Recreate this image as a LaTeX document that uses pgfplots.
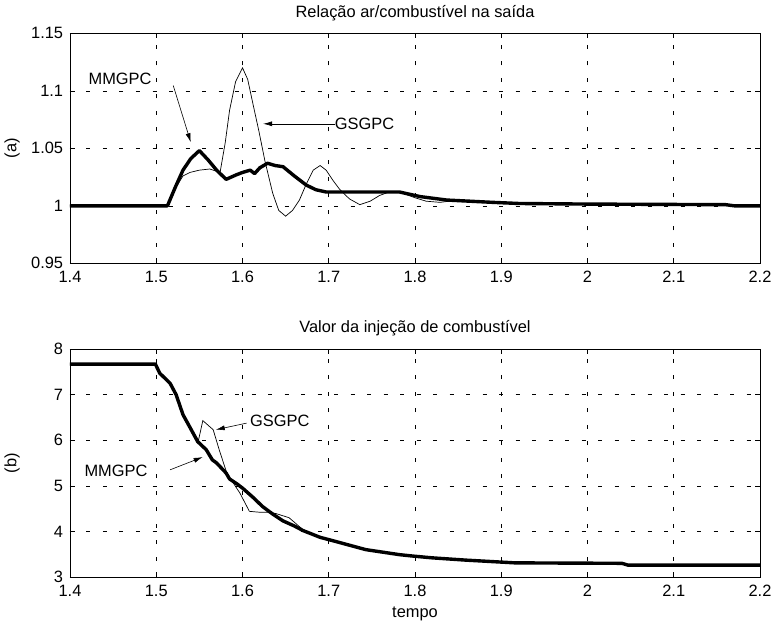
\documentclass[border=0pt]{standalone}
\usepackage{fontspec}
\setmainfont{Liberation Sans}
\usepackage{pgfplots}
\pgfplotsset{compat=1.18}
\usetikzlibrary{arrows.meta}
\begin{document}
\fontsize{16.4bp}{18bp}\selectfont
\begin{tikzpicture}
\useasboundingbox (-70bp,33.3bp) rectangle (704bp,-589.7bp);
\pgfplotsset{
  mystyle/.style={
    scale only axis, width=690bp,
    xmin=1.4, xmax=2.2,
    xtick={1.4,1.5,1.6,1.7,1.8,1.9,2,2.1,2.2},
    grid=major,
    major grid style={black, line width=0.5bp, dash pattern=on 4bp off 12.5bp},
    tick align=inside, tick pos=both,
    major tick length=5bp,
    axis line style={line width=0.8bp},
    every tick/.style={black, line width=0.6bp},
    /pgf/number format/assume math mode=true,
    tick label style={font=\fontsize{16.4bp}{18bp}\selectfont, inner sep=1bp},
    x tick label style={yshift=-7bp},
    y tick label style={xshift=-5.7bp},
    label style={font=\fontsize{16.4bp}{18bp}\selectfont},
    title style={font=\fontsize{16.4bp}{18bp}\selectfont, yshift=1bp},
    scaled ticks=false,
    ylabel style={at={(axis description cs:-0.084,0.5)}, anchor=center},
    xlabel style={yshift=-3bp},
    thin/.style={black, line width=0.7bp},
    thick/.style={black, line width=3.4bp, line join=round},
  }
}
% ---------- top
\begin{axis}[mystyle, height=230bp, at={(0,0)}, anchor=north west,
  ymin=0.95, ymax=1.15, ytick={0.95,1,1.05,1.1,1.15},
  yticklabels={0.95,1,1.05,1.1,1.15},
  xticklabels={1.4,1.5,1.6,1.7,1.8,1.9,2,2.1,2.2},
  title={Relação ar/combustível na saída}, ylabel={(a)}]
\addplot[thin] coordinates {(1.4,1.0) (1.513,1.0) (1.522,1.015) (1.531,1.026) (1.539,1.029) (1.550,1.031) (1.562,1.032) (1.574,1.029) (1.580,1.055) (1.585,1.083) (1.592,1.108) (1.600,1.120) (1.606,1.110) (1.612,1.089) (1.619,1.065) (1.626,1.039) (1.635,1.011) (1.642,0.996) (1.650,0.991) (1.658,0.996) (1.666,1.005) (1.674,1.019) (1.682,1.031) (1.690,1.035) (1.697,1.031) (1.705,1.022) (1.713,1.014) (1.724,1.006) (1.736,1.001) (1.748,1.004) (1.759,1.009) (1.770,1.012) (1.782,1.012) (1.800,1.007) (1.813,1.004) (1.829,1.003) (1.850,1.005) (1.890,1.003) (1.921,1.002) (2.0,1.0015) (2.16,1.001) (2.17,1.0) (2.2,1.0)};
\addplot[thick] coordinates {(1.4,1.0) (1.513,1.0) (1.522,1.016) (1.531,1.031) (1.540,1.041) (1.550,1.048) (1.560,1.040) (1.570,1.031) (1.581,1.023) (1.593,1.027) (1.600,1.029) (1.609,1.031) (1.614,1.028) (1.620,1.033) (1.629,1.037) (1.638,1.035) (1.647,1.034) (1.660,1.026) (1.674,1.018) (1.685,1.014) (1.697,1.012) (1.736,1.012) (1.782,1.012) (1.806,1.008) (1.837,1.005) (1.890,1.003) (1.921,1.002) (2.0,1.0015) (2.16,1.001) (2.17,1.0) (2.2,1.0)};
\node at (axis cs:1.458,1.1107) {MMGPC};
\draw[black, line width=0.6bp, -{Latex[length=9bp,width=5bp]}] (axis cs:1.5197,1.1046) -- (axis cs:1.540,1.0553);
\node[anchor=west, inner sep=0pt] at (axis cs:1.707,1.0713) {GSGPC};
\draw[black, line width=0.6bp, -{Latex[length=9bp,width=5bp]}] (axis cs:1.707,1.0713) -- (axis cs:1.624,1.0713);
\end{axis}
% ---------- bottom
\begin{axis}[mystyle, height=228bp, at={(0,-315.7bp)}, anchor=north west,
  ymin=3, ymax=8, ytick={3,4,5,6,7,8},
  xticklabels={1.4,1.5,1.6,1.7,1.8,1.9,2,2.1,2.2},
  title={Valor da injeção de combustível}, ylabel={(b)}, xlabel={tempo}]
\addplot[thin] coordinates {(1.4,7.67) (1.499,7.67) (1.504,7.47) (1.516,7.25) (1.523,7.0) (1.531,6.56) (1.540,6.25) (1.549,6.0) (1.554,6.43) (1.566,6.23) (1.573,5.79) (1.583,5.21) (1.588,5.10) (1.597,4.84) (1.608,4.44) (1.620,4.42) (1.631,4.42) (1.639,4.39) (1.654,4.30) (1.670,4.04) (1.690,3.87) (1.704,3.80) (1.743,3.60) (1.782,3.49) (1.797,3.46) (1.820,3.42) (1.859,3.37) (1.897,3.33) (1.916,3.31) (2.04,3.30) (2.047,3.26) (2.2,3.26)};
\addplot[thick] coordinates {(1.4,7.67) (1.499,7.67) (1.504,7.47) (1.516,7.25) (1.523,7.0) (1.531,6.56) (1.540,6.25) (1.548,5.97) (1.558,5.79) (1.565,5.57) (1.570,5.50) (1.581,5.28) (1.585,5.15) (1.593,5.05) (1.600,4.95) (1.612,4.75) (1.623,4.55) (1.635,4.38) (1.647,4.23) (1.660,4.12) (1.670,4.02) (1.690,3.87) (1.704,3.80) (1.743,3.60) (1.782,3.49) (1.797,3.46) (1.820,3.42) (1.859,3.37) (1.897,3.33) (1.916,3.31) (2.04,3.30) (2.047,3.26) (2.2,3.26)};
\node[anchor=west, inner sep=0pt] at (axis cs:1.6086,6.431) {GSGPC};
\draw[black, line width=0.6bp, -{Latex[length=9bp,width=5bp]}] (axis cs:1.6047,6.374) -- (axis cs:1.569,6.23);
\node[anchor=east, inner sep=0pt] at (axis cs:1.490,5.33) {MMGPC};
\draw[black, line width=0.6bp, -{Latex[length=9bp,width=5bp]}] (axis cs:1.516,5.35) -- (axis cs:1.5538,5.63);
\end{axis}
\end{tikzpicture}
\end{document}
